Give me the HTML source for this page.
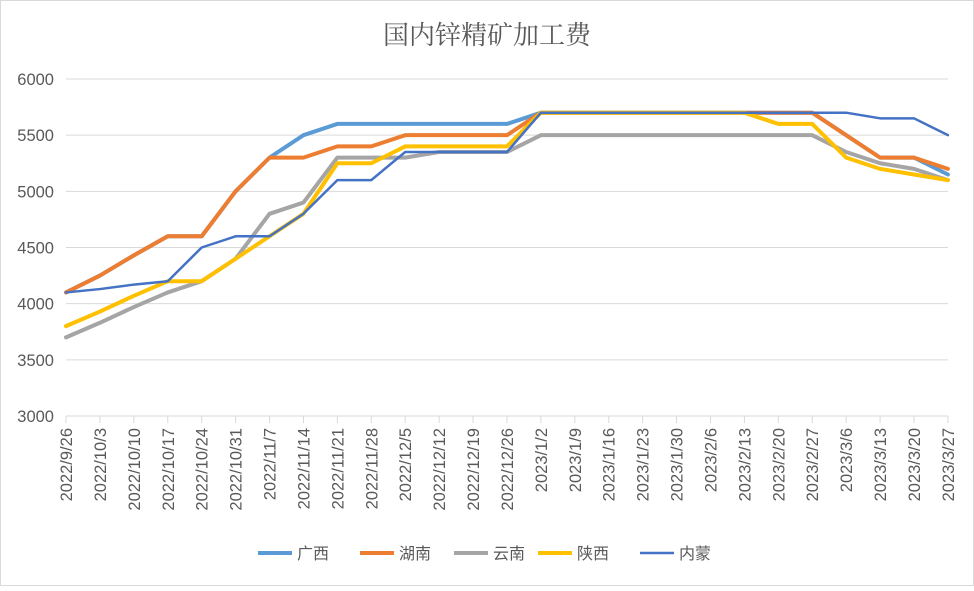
<!DOCTYPE html><html><head><meta charset="utf-8"><style>
body{margin:0;background:#fff}
svg text{font-family:"Liberation Sans","Noto Sans CJK SC",sans-serif;fill:#595959}
</style></head><body>
<svg id="s" width="974" height="586" xmlns="http://www.w3.org/2000/svg">
<rect x="0.5" y="0.5" width="973" height="585" fill="#fff" stroke="#d9d9d9"/>
<text x="487" y="44" text-anchor="middle" font-size="26" style="font-family:'Noto Serif CJK SC','Noto Sans CJK SC',serif">国内锌精矿加工费</text>
<g id="g"></g>
<g font-size="16">
<line x1="258" y1="553" x2="292" y2="553" stroke="#5B9BD5" stroke-width="4"/><text x="297" y="559">广西</text>
<line x1="360" y1="553" x2="394" y2="553" stroke="#ED7D31" stroke-width="4"/><text x="399" y="559">湖南</text>
<line x1="454" y1="553" x2="488" y2="553" stroke="#A5A5A5" stroke-width="4"/><text x="493" y="559">云南</text>
<line x1="538" y1="553" x2="572" y2="553" stroke="#FFC000" stroke-width="4"/><text x="577" y="559">陕西</text>
<line x1="640" y1="553" x2="674" y2="553" stroke="#4472C4" stroke-width="2.5"/><text x="679" y="559">内蒙</text>
</g>
</svg>
<script>
var g=document.getElementById('g'),h='';
function X(i){return 66+i*33.92}function Y(v){return 416-(v-3000)*337/3000}
for(var v=3000;v<=6000;v+=500){var y=Y(v);if(v>3000)h+='<line x1="66" x2="948" y1="'+y+'" y2="'+y+'" stroke="#d9d9d9"/>';h+='<text x="54" y="'+(y+6)+'" text-anchor="end" font-size="16.5">'+v+'</text>';}
h+='<line x1="66" x2="948" y1="416" y2="416" stroke="#d9d9d9"/>';
var L=['2022/9/26','2022/10/3','2022/10/10','2022/10/17','2022/10/24','2022/10/31','2022/11/7','2022/11/14','2022/11/21','2022/11/28','2022/12/5','2022/12/12','2022/12/19','2022/12/26','2023/1/2','2023/1/9','2023/1/16','2023/1/23','2023/1/30','2023/2/6','2023/2/13','2023/2/20','2023/2/27','2023/3/6','2023/3/13','2023/3/20','2023/3/27'];
for(var i=0;i<27;i++){var x=X(i);h+='<line x1="'+x+'" x2="'+x+'" y1="416" y2="423" stroke="#d9d9d9"/>';h+='<text transform="translate('+(x+6)+',428) rotate(-90)" text-anchor="end" font-size="16.5">'+L[i]+'</text>';}
var S=[['#5B9BD5',4,[4100,4250,4430,4600,4600,5000,5300,5500,5600,5600,5600,5600,5600,5600,5700,5700,5700,5700,5700,5700,5700,5700,5700,5500,5300,5300,5150]],
['#ED7D31',4,[4100,4250,4430,4600,4600,5000,5300,5300,5400,5400,5500,5500,5500,5500,5700,5700,5700,5700,5700,5700,5700,5700,5700,5500,5300,5300,5200]],
['#A5A5A5',4,[3700,3830,3970,4100,4200,4400,4800,4900,5300,5300,5300,5350,5350,5350,5500,5500,5500,5500,5500,5500,5500,5500,5500,5350,5250,5200,5100]],
['#FFC000',4,[3800,3930,4070,4200,4200,4400,4600,4800,5250,5250,5400,5400,5400,5400,5700,5700,5700,5700,5700,5700,5700,5600,5600,5300,5200,5150,5100]],
['#4472C4',2.5,[4100,4130,4170,4200,4500,4600,4600,4800,5100,5100,5350,5350,5350,5350,5700,5700,5700,5700,5700,5700,5700,5700,5700,5700,5650,5650,5500]]];
S.forEach(function(s){var p=s[2].map(function(v,i){return X(i)+','+Y(v)}).join(' ');h+='<polyline points="'+p+'" fill="none" stroke="'+s[0]+'" stroke-width="'+s[1]+'" stroke-linejoin="round" stroke-linecap="round"/>';});
g.innerHTML=h;
</script>
</body></html>
